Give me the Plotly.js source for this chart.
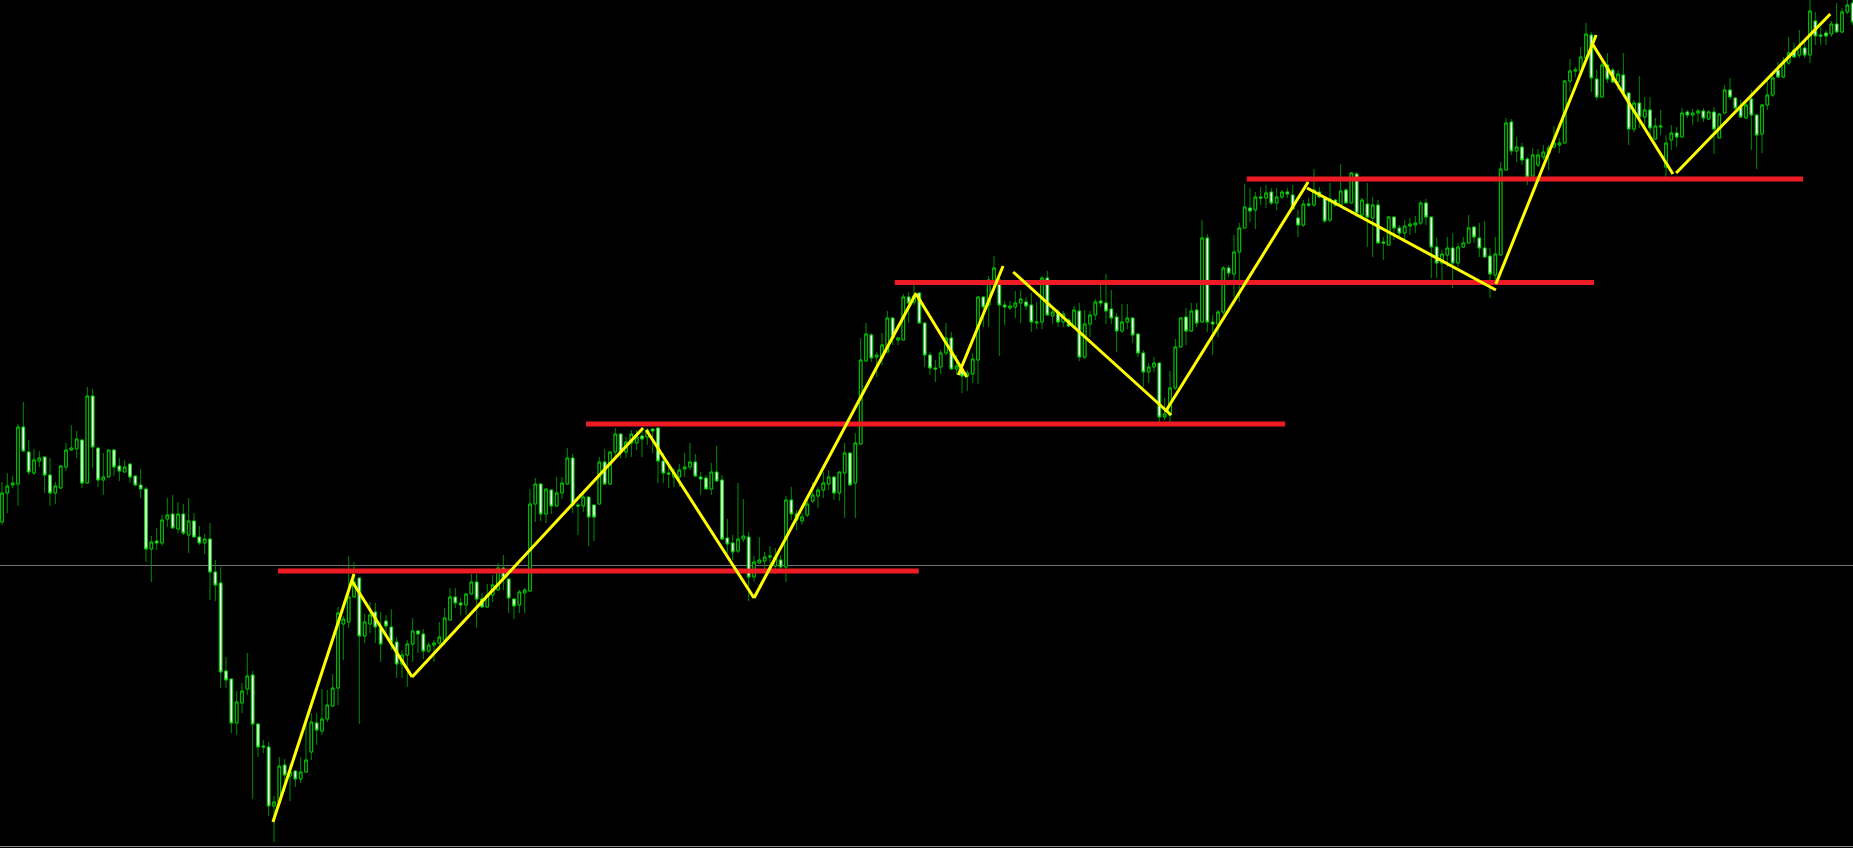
<!DOCTYPE html>
<html>
<head>
<meta charset="utf-8">
<script src="https://cdn.plot.ly/plotly-3.0.1.min.js"></script>
<style>
  html, body { margin: 0; padding: 0; background: #000; overflow: hidden; }
  #chart { width: 1853px; height: 848px; }
</style>
</head>
<body>
<div id="chart"></div>
<script>
// Bar prices, one entry per bar (oldest first)
const opens = [
  478,507,515,516,573,548,527,539,543,525, 507,512,533,550,551,560,517,604,552,520,
  523,550,534,528,536,524,515,511,451,459, 457,481,486,471,486,465,479,463,457,461,
  428,417,329,321,277,297,311,325,276,254, 253,194,198,235,224,229,221,228,248,277,
  269,281,294,312,376,378,403,422,364,376, 388,372,379,373,358,336,345,356,369,366,
  349,355,357,360,380,403,397,395,406,418, 401,393,405,410,432,421,401,395,407,409,
  496,516,486,510,494,507,516,542,495,494, 503,495,496,538,516,548,566,548,557,557,
  564,563,571,572,539,527,523,523,531,533, 538,523,522,511,528,520,462,457,449,461,
  463,423,437,439,443,434,440,433,500,486, 479,485,499,504,510,516,523,507,527,547,
  517,556,639,665,643,642,648,682,660,660, 703,698,707,677,645,632,633,647,662,631,
  631,624,626,640,703,695,717,720,695,692, 693,697,698,695,677,678,722,684,688,678,
  680,673,689,643,676,685,699,697,691,683, 669,678,682,666,647,628,633,637,583,585,
  612,653,683,669,690,678,762,678,676,688, 732,726,748,772,792,790,803,802,808,797,
  803,808,805,782,775,796,795,808,802,780, 800,795,810,797,826,785,796,782,795,758,
  755,783,772,767,774,775,777,797,783,753, 737,745,752,737,753,757,773,762,752,744,
  725,745,830,878,849,853,841,824,835,843, 847,853,855,857,919,929,929,942,965,921,
  903,935,930,918,925,907,871,897,883,890, 861,873,833,860,867,863,888,885,887,889,
  881,888,862,887,910,902,893,882,901,885, 866,895,905,930,923,937,950,945,952,945,
  979,965,967,966,976,968,988,997
];
const highs = [
  518,527,524,576,598,560,551,549,543,542, 518,535,557,575,569,560,613,611,552,547,
  550,551,542,540,536,524,531,513,464,472, 485,502,505,498,496,502,487,474,466,477,
  440,433,343,321,309,317,347,329,276,260, 258,204,243,241,236,230,243,280,287,287,
  311,310,326,393,384,444,438,422,386,398, 397,388,385,391,363,350,360,382,370,371,
  358,360,378,392,412,412,402,407,426,426, 407,416,425,437,445,421,401,410,412,511,
  522,517,511,510,523,523,552,546,497,506, 503,495,543,551,548,572,566,563,570,570,
  572,572,572,572,547,533,532,536,547,557, 546,528,525,537,554,525,481,465,517,501,
  468,444,463,448,454,452,445,504,513,490, 487,503,518,513,528,530,523,528,557,547,
  567,662,677,667,648,667,689,683,663,706, 708,715,708,677,648,640,650,677,668,645,
  633,630,647,704,704,724,744,723,699,699, 709,710,703,707,698,724,729,692,691,689,
  682,694,697,690,689,701,715,726,710,687, 696,696,683,666,650,637,643,638,602,629,
  661,683,692,697,697,780,766,685,690,734, 735,765,777,816,812,808,813,815,812,812,
  810,812,815,790,800,802,831,813,803,817, 801,836,812,828,828,802,817,803,800,763,
  784,783,775,780,782,784,799,801,783,762, 750,763,767,757,763,785,773,777,779,752,
  763,838,882,881,863,857,843,852,851,855, 855,874,862,920,941,933,953,977,968,930,
  938,947,932,930,947,907,900,924,903,903, 882,890,865,875,873,892,890,891,891,892,
  890,893,887,915,922,903,900,898,910,885, 896,920,926,938,943,963,957,970,960,1003,
  988,973,970,979,997,992,1002,1005
];
const lows = [
  475,487,512,494,549,525,525,533,507,494, 496,512,529,550,542,512,517,532,513,505,
  523,524,519,528,517,515,502,438,418,450, 454,473,472,467,465,447,463,455,446,400,
  399,312,312,267,265,287,305,201,243,247, 184,158,198,208,199,213,217,228,240,255,
  265,278,294,295,340,372,403,276,357,367, 357,338,367,350,322,322,313,338,347,341,
  347,338,355,355,380,392,385,385,406,372, 393,393,398,410,410,387,381,387,387,409,
  478,479,477,486,494,501,516,487,465,488, 454,459,496,516,515,542,542,542,543,550,
  543,555,547,517,517,512,513,513,523,530, 523,505,511,505,519,460,447,440,447,458,
  399,418,437,430,429,426,430,418,480,470, 475,483,497,492,502,510,500,499,482,515,
  482,556,639,638,623,635,648,655,655,660, 677,695,677,633,625,618,626,645,631,625,
  607,609,617,616,673,673,710,644,675,690, 682,677,690,668,671,671,685,676,673,673,
  673,673,639,641,663,680,693,676,676,648, 667,671,657,643,613,617,628,578,580,578,
  610,653,655,668,673,678,668,645,663,685, 723,703,698,772,778,771,795,792,795,790,
  801,802,791,763,773,793,793,802,777,778, 793,795,797,797,783,782,753,743,757,740,
  755,760,763,758,765,767,775,775,722,722, 720,733,712,733,752,757,757,743,742,702,
  715,745,830,845,838,835,815,823,833,840, 830,853,847,857,908,923,929,942,908,900,
  903,917,917,910,907,855,868,872,870,865, 860,865,823,850,853,863,882,875,878,878,
  880,846,862,887,900,890,882,881,850,831, 847,890,903,922,922,935,942,942,942,937,
  955,955,955,963,968,967,986,975
];
const closes = [
  507,514,517,573,549,528,540,542,525,507, 514,534,550,552,561,517,604,553,520,523,
  550,533,529,533,523,515,511,451,458,457, 480,485,472,486,467,479,463,457,461,428,
  415,328,320,277,298,309,324,276,253,253, 194,198,234,225,228,221,228,240,278,270,
  281,295,312,387,381,403,418,364,378,385, 373,356,374,358,336,345,356,369,366,349,
  355,357,363,382,403,397,395,406,418,401, 393,405,415,432,422,402,394,408,410,496,
  516,486,511,494,507,517,542,495,494,503, 483,483,538,516,548,566,548,558,566,563,
  561,570,569,539,527,526,527,530,533,538, 524,521,511,528,519,461,456,448,461,464,
  423,438,440,443,444,443,433,500,486,480, 483,496,505,510,517,523,507,528,547,515,
  557,640,666,642,645,655,682,662,662,703, 697,704,677,645,632,631,647,662,631,634,
  624,627,641,703,693,720,732,695,693,694, 697,701,694,678,678,722,685,688,678,686,
  674,690,643,676,685,698,697,689,682,669, 678,682,665,647,628,633,637,583,586,612,
  653,682,669,689,677,762,678,676,688,732, 727,748,772,793,789,803,802,807,797,803,
  808,806,791,775,796,795,810,803,779,801, 795,809,797,827,787,800,783,795,757,757,
  783,772,767,774,776,777,797,783,753,737, 746,752,737,753,757,772,763,752,743,726,
  746,831,877,849,853,840,823,845,845,848, 852,857,857,919,929,930,943,966,922,903,
  935,921,918,926,907,871,897,883,890,872, 874,874,857,867,863,887,885,887,889,882,
  888,871,886,910,903,892,883,895,885,865, 895,905,922,923,937,947,943,953,945,989,
  964,964,964,976,968,988,995,978
];

// Zigzag swing segments: bar position and price of each end, segments split by null
const zigzagBar = [
  50.8, 66.0, null, 65.6, 76.9, null, 76.9, 120.2, null, 120.8, 141.0, null,
  141.0, 171.4, null, 171.4, 180.9, null, 179.3, 187.7, null, 189.6, 219.2, null,
  218.1, 244.9, null, 244.7, 280.1, null, 280.1, 298.9, null, 298.1, 313.3, null,
  313.9, 342.8
];
const zigzagPrice = [
  178, 426, null, 419, 323, null, 323, 572, null, 570, 402, null,
  402, 707, null, 706, 623, null, 625, 734, null, 728, 585, null,
  588, 818, null, 812, 710, null, 716, 965, null, 957, 826, null,
  827, 986
];

// Horizontal support / resistance levels
const levelPrice = [429, 576, 717.5, 821];
const levelFromBar = [51.75, 109.5, 167.4, 233.4];
const levelToBar = [171.9, 240.6, 298.5, 337.7];

// Current price line and bottom frame
const priceLine = 434.5;
const frameBottom = 153.5;

const bars = opens.map((_, i) => i);

const WICK = '#008a00';
const OUTLINE = '#00cc00';
const BULL_FILL = '#000000';
const BEAR_FILL = '#ffffff';

// Full candles: wicks and bodies
const candles = {
  type: 'candlestick',
  x: bars, open: opens, high: highs, low: lows, close: closes,
  increasing: { line: { color: WICK, width: 1 }, fillcolor: BULL_FILL },
  decreasing: { line: { color: WICK, width: 1 }, fillcolor: BEAR_FILL },
  whiskerwidth: 0,
  hoverinfo: 'skip',
  showlegend: false
};

// Bodies only, redrawn with the brighter outline
const bodies = {
  type: 'candlestick',
  x: bars, open: opens, close: closes,
  high: opens.map((o, i) => Math.max(o, closes[i])),
  low: opens.map((o, i) => Math.min(o, closes[i])),
  increasing: { line: { color: OUTLINE, width: 1 }, fillcolor: BULL_FILL },
  decreasing: { line: { color: OUTLINE, width: 1 }, fillcolor: BEAR_FILL },
  whiskerwidth: 0,
  hoverinfo: 'skip',
  showlegend: false
};

const levelX = [], levelY = [];
levelPrice.forEach((p, i) => {
  levelX.push(levelFromBar[i], levelToBar[i], null);
  levelY.push(p, p, null);
});

const levels = {
  type: 'scatter', mode: 'lines',
  x: levelX, y: levelY,
  line: { color: '#ed1c24', width: 5 },
  hoverinfo: 'skip', showlegend: false
};

const zigzag = {
  type: 'scatter', mode: 'lines',
  x: zigzagBar, y: zigzagPrice,
  line: { color: '#ffff00', width: 3 },
  connectgaps: false,
  hoverinfo: 'skip', showlegend: false
};

const layout = {
  width: 1853, height: 848,
  margin: { l: 0, r: 0, t: 0, b: 0, pad: 0 },
  paper_bgcolor: '#000000',
  plot_bgcolor: '#000000',
  showlegend: false,
  boxgap: 0.3,
  xaxis: {
    type: 'linear',
    range: [-0.375, 347.06],
    showgrid: false, zeroline: false, showticklabels: false, ticks: '',
    showline: false, fixedrange: true,
    rangeslider: { visible: false }
  },
  yaxis: {
    range: [152, 1000],
    showgrid: false, zeroline: false, showticklabels: false, ticks: '',
    showline: false, fixedrange: true
  },
  shapes: [
    { type: 'line', xref: 'paper', yref: 'y', x0: 0, x1: 1, y0: priceLine, y1: priceLine,
      line: { color: '#6e737c', width: 1 }, layer: 'below' },
    { type: 'line', xref: 'paper', yref: 'y', x0: 0, x1: 1, y0: frameBottom, y1: frameBottom,
      line: { color: '#8a8a8a', width: 1 }, layer: 'above' }
  ]
};

Plotly.newPlot('chart', [candles, bodies, levels, zigzag], layout, {
  displayModeBar: false, staticPlot: true
});
</script>
</body>
</html>
